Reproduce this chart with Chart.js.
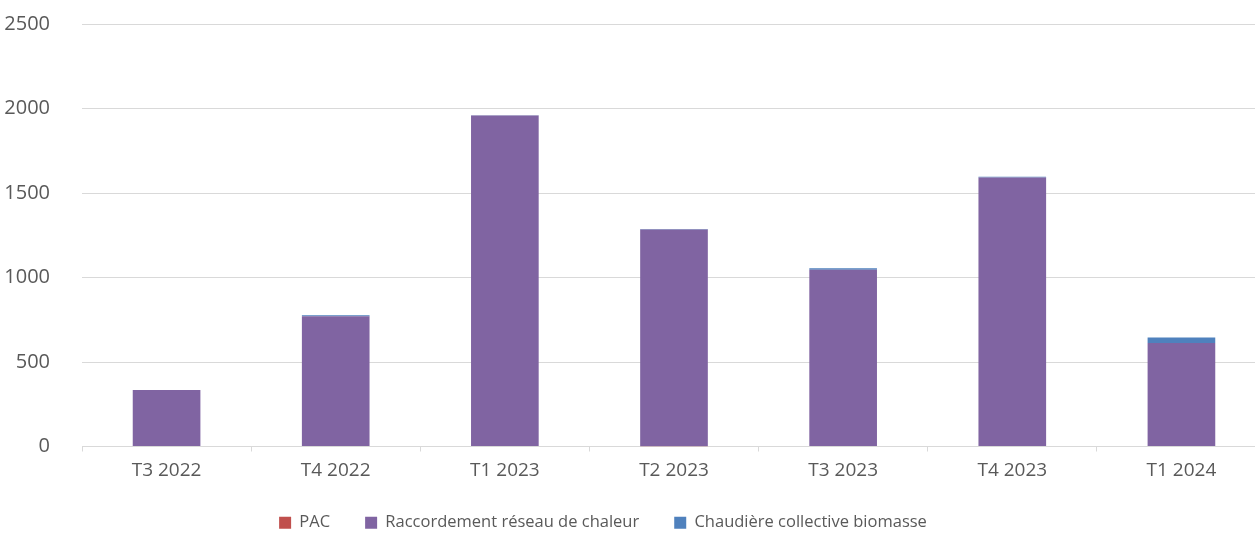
<!DOCTYPE html>
<html>
<head>
<meta charset="utf-8">
<script src="https://cdn.jsdelivr.net/npm/chart.js@4"></script>
<style>
  html, body { margin: 0; padding: 0; background: #fff; overflow: hidden; }
  #wrap { width: 1266px; height: 561px; position: relative; margin-top: -20px; }
</style>
</head>
<body>
<div id="wrap"><canvas id="barChart"></canvas></div>
<script>
const categories = ['T3 2022', 'T4 2022', 'T1 2023', 'T2 2023', 'T3 2023', 'T4 2023', 'T1 2024'];
const pacValues = [0, 3, 0, 2, 0, 0, 0];
const reseauValues = [335, 768, 1958, 1282, 1046, 1591, 613];
const biomasseValues = [0, 5, 2, 3, 9, 5, 32];
const yTicks = [0, 500, 1000, 1500, 2000, 2500];

const fontFamily = "'Open Sans', sans-serif";

// the legend in the original sits a bit left of the page centre
const legendShift = {
    id: 'legendShift',
    afterLayout(chart) {
        const lg = chart.legend;
        if (lg) { lg.left -= 30; lg.right -= 30; }
    }
};

const ctx = document.getElementById('barChart').getContext('2d');
new Chart(ctx, {
    type: 'bar',
    data: {
        labels: categories,
        datasets: [
            { label: 'PAC', data: pacValues, backgroundColor: '#C0504D' },
            { label: 'Raccordement réseau de chaleur', data: reseauValues, backgroundColor: '#8064A2' },
            { label: 'Chaudière collective biomasse', data: biomasseValues, backgroundColor: '#4F81BD' }
        ]
    },
    plugins: [legendShift],
    options: {
        responsive: true,
        maintainAspectRatio: false,
        animation: false,
        layout: { padding: { top: 14, left: 0, right: 0, bottom: 0 } },
        datasets: { bar: { categoryPercentage: 1, barPercentage: 0.4 } },
        plugins: {
            tooltip: { enabled: false },
            legend: {
                position: 'bottom',
                labels: {
                    font: { family: fontFamily, size: 16.5 },
                    color: '#595959',
                    boxWidth: 12,
                    boxHeight: 12,
                    padding: 35
                }
            }
        },
        scales: {
            x: {
                stacked: true,
                offset: true,
                afterFit: axis => { axis.height = 33; },
                grid: { drawOnChartArea: false, color: '#d9d9d9', tickLength: 5, offset: true },
                border: { color: '#d9d9d9' },
                ticks: { font: { family: fontFamily, size: 19 }, color: '#595959', padding: 8 }
            },
            y: {
                stacked: true,
                min: 0,
                max: 2500,
                afterBuildTicks: axis => { axis.ticks = yTicks.map(v => ({ value: v })); },
                afterFit: axis => { axis.width = 82; },
                grid: { color: '#d9d9d9', drawTicks: false },
                border: { display: false },
                ticks: {
                    font: { family: fontFamily, size: 20 },
                    color: '#595959',
                    padding: 32,
                    callback: value => String(value)
                }
            }
        }
    }
});
</script>
</body>
</html>
